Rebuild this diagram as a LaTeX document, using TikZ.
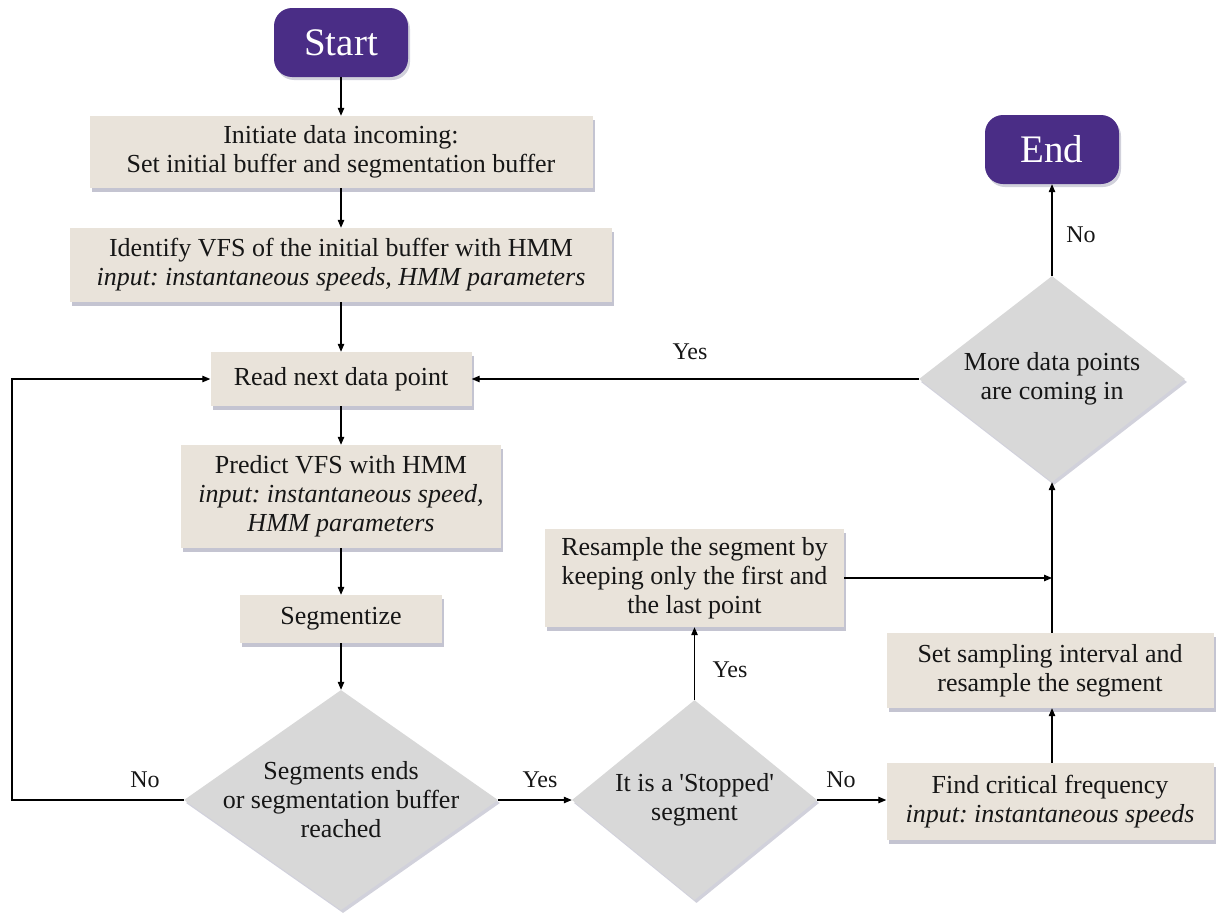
\documentclass[tikz,border=0pt]{standalone}
\usepackage{fontspec}
\setmainfont{Liberation Serif}
\usetikzlibrary{shapes.geometric,arrows.meta,shadows,calc}
\definecolor{boxfill}{HTML}{E9E3DA}
\definecolor{diafill}{HTML}{D8D8D8}
\definecolor{termfill}{HTML}{4A2D86}
\definecolor{txtcol}{HTML}{161616}
\definecolor{shcol}{HTML}{7C7C99}
\frenchspacing
\begin{document}
\begin{tikzpicture}[x=1pt,y=-1pt,
  txt/.style={font=\fontsize{26}{29}\selectfont, text=txtcol, align=center},
  lbl/.style={font=\fontsize{24}{26}\selectfont, text=txtcol},
  procbox/.style={txt, rectangle, fill=boxfill, inner sep=0pt,
    drop shadow={shadow xshift=2pt, shadow yshift=-4pt, fill=shcol, opacity=0.45}},
  termbox/.style={rectangle, rounded corners=18pt, fill=termfill, inner sep=0pt,
    minimum width=134pt, minimum height=69pt,
    font=\fontsize{39}{42}\selectfont, text=white,
    drop shadow={shadow xshift=2pt, shadow yshift=-3pt, fill=shcol, opacity=0.35}},
  decision/.style={diamond, fill=diafill, inner sep=0pt, shape aspect=1,
    drop shadow={shadow xshift=2pt, shadow yshift=-3pt, fill=shcol, opacity=0.35}},
  conn/.style={draw=black, line width=1.1pt, -{Triangle[length=8pt,width=6.5pt]}}
]
\useasboundingbox (0,0) rectangle (1218,913);

% terminals
\node[termbox] (start) at (341,42.5) {Start};
\node[termbox] (end) at (1052,149.5) {End};

% process boxes
\node[procbox, minimum width=503pt, minimum height=72pt] (b1) at (341,152)
  {Initiate data incoming:\\Set initial buffer and segmentation buffer};
\node[procbox, minimum width=542pt, minimum height=74pt] (b2) at (341,265)
  {Identify VFS of the initial buffer with HMM\\\textit{input: instantaneous speeds, HMM parameters}};
\node[procbox, minimum width=261pt, minimum height=54pt] (read) at (341,379)
  {Read next data point};
\node[procbox, minimum width=320pt, minimum height=103pt] (pred) at (341,496.5)
  {Predict VFS with HMM\\\textit{input: instantaneous speed,}\\\textit{HMM parameters}};
\node[procbox, minimum width=202pt, minimum height=48pt] (seg) at (341,619)
  {Segmentize};
\node[procbox, minimum width=299pt, minimum height=98pt] (resample) at (694.5,578)
  {Resample the segment by\\keeping only the first and\\the last point};
\node[procbox, minimum width=327pt, minimum height=75pt] (setb) at (1050,670.5)
  {Set sampling interval and\\resample the segment};
\node[procbox, minimum width=327pt, minimum height=77pt] (findb) at (1050,801.5)
  {Find critical frequency\\\textit{input: instantaneous speeds}};

% decisions
\node[decision, minimum width=314pt, minimum height=220pt,
  label={[txt]center:{Segments ends\\or segmentation buffer\\reached}}] (d1) at (341,800) {};
\node[decision, minimum width=245pt, minimum height=200pt,
  label={[txt]center:{It is a \textquotesingle Stopped\textquotesingle\\segment}}] (d2) at (694.5,800) {};
\node[decision, minimum width=266pt, minimum height=206pt,
  label={[txt]center:{More data points\\are coming in}}] (d3) at (1052,379) {};

% helper coordinates
\coordinate (loopbot) at (12,800);
\coordinate (looptop) at (12,379);
\coordinate (joinpt) at (1052,578);

% main column
\draw[conn] (start.south) -- (b1.north);
\draw[conn] (b1.south) -- (b2.north);
\draw[conn] (b2.south) -- (read.north);
\draw[conn] (read.south) -- (pred.north);
\draw[conn] (pred.south) -- (seg.north);
\draw[conn] (seg.south) -- (d1.north);

% loop back (No)
\draw[conn] (d1.west) -- (loopbot) -- (looptop) -- (read.west);
\node[lbl] (lno1) at (145,780) {No};

% Yes to stopped decision
\draw[conn] (d1.east) -- (d2.west);
\node[lbl] (lyes1) at (540,780) {Yes};

% stopped -> resample (Yes)
\draw[conn] (d2.north) -- (resample.south);
\node[lbl] (lyes2) at (730,670) {Yes};

% stopped -> find critical (No)
\draw[conn] (d2.east) -- (d2.east -| findb.west);
\node[lbl] (lno2) at (841,780) {No};

% find -> set
\draw[conn] (findb.north -| joinpt) -- (setb.south -| joinpt);

% set -> more data
\draw[conn] (setb.north -| joinpt) -- (d3.south);

% resample -> join line
\draw[conn] (resample.east) -- (joinpt);

% more data -> read (Yes)
\draw[conn] (d3.west) -- (read.east);
\node[lbl] (lyes3) at (690,352) {Yes};

% more data -> end (No)
\draw[conn] (d3.north) -- (end.south);
\node[lbl] (lno3) at (1081,235) {No};
\end{tikzpicture}
\end{document}
